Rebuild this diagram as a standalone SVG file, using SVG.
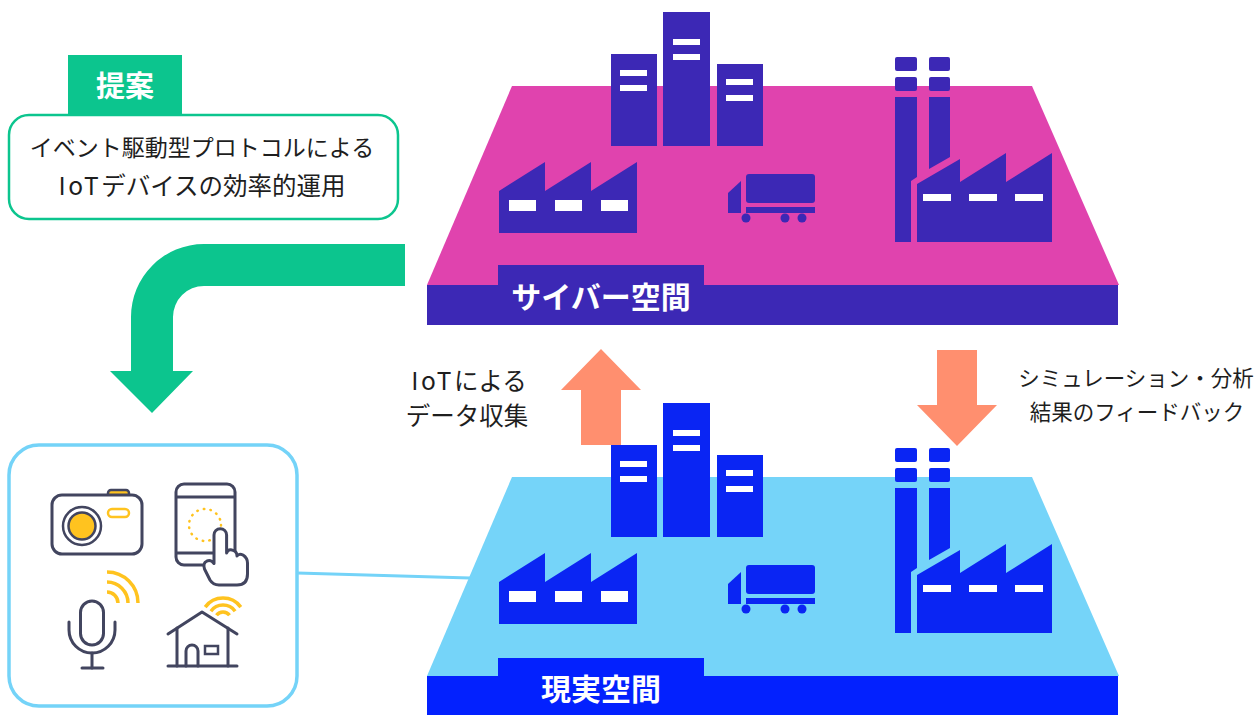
<svg xmlns="http://www.w3.org/2000/svg" width="1260" height="715" viewBox="0 0 1260 715">
  <defs>
    <style>
      .jp { font-family: "Noto Sans CJK JP", "Noto Sans", sans-serif; }
      .caption { font-size: 24.5px; fill: #1e1e1e; text-anchor: middle; }
      .caption-r { font-size: 21.5px; fill: #1e1e1e; text-anchor: middle; }
      .plate-label { font-size: 30px; font-weight: 700; fill: #ffffff; text-anchor: middle; }
      .latin { letter-spacing: 2.5px; }
      .win { fill: #ffffff; }
      .icon { fill: none; stroke: #42455f; stroke-width: 3; stroke-linecap: round; stroke-linejoin: round; }
      .icon-w { fill: #ffffff; stroke: #42455f; stroke-width: 3; stroke-linejoin: round; }
      .wave { fill: none; stroke: #ffc31f; stroke-width: 3.5; }
    </style>
    <!-- skyline shared by both plates; colour comes from the <use> -->
    <g id="city">
      <!-- office towers -->
      <rect x="611" y="54" width="46" height="92"/>
      <rect x="663" y="12" width="47" height="134"/>
      <rect x="717" y="64" width="46" height="82"/>
      <rect class="win" x="620" y="70" width="27" height="6"/>
      <rect class="win" x="620" y="85" width="27" height="6"/>
      <rect class="win" x="673" y="39" width="27" height="6"/>
      <rect class="win" x="673" y="54" width="27" height="6"/>
      <rect class="win" x="726" y="79" width="27" height="6"/>
      <rect class="win" x="726" y="95" width="27" height="6"/>
      <!-- saw-tooth factory -->
      <path d="M499,191 L545,162 L545,191 L591,162 L591,191 L637,162 L637,233 L499,233 Z"/>
      <rect class="win" x="509" y="200" width="27" height="11"/>
      <rect class="win" x="555" y="200" width="27" height="11"/>
      <rect class="win" x="601" y="200" width="27" height="11"/>
      <!-- truck -->
      <path d="M728,193 L741,181 L741,213 L728,213 Z"/>
      <rect x="746" y="174" width="69" height="29" rx="3"/>
      <rect x="746" y="207" width="69" height="6"/>
      <circle cx="746" cy="218" r="4.5"/>
      <circle cx="785" cy="218" r="4.5"/>
      <circle cx="802" cy="218" r="4.5"/>
      <!-- factory with chimneys -->
      <rect x="895" y="57" width="22" height="14" rx="2"/>
      <rect x="895" y="77" width="22" height="14" rx="2"/>
      <rect x="929" y="57" width="21" height="14" rx="2"/>
      <rect x="929" y="77" width="21" height="14" rx="2"/>
      <path d="M895,97 L917,97 L917,177 L911,181 L911,242 L895,242 Z"/>
      <path d="M929,97 L950,97 L950,157 L929,169 Z"/>
      <path d="M917,184 L960,159 L960,182 L1006,153 L1006,182 L1052,153 L1052,242 L917,242 Z"/>
      <rect class="win" x="923" y="194" width="28" height="7"/>
      <rect class="win" x="969" y="194" width="28" height="7"/>
      <rect class="win" x="1015" y="194" width="28" height="7"/>
    </g>
  </defs>

  <rect width="1260" height="715" fill="#ffffff"/>

  <!-- connectors -->
  <g id="connectors">
    <line x1="297" y1="573" x2="470" y2="578" stroke="#74d3f8" stroke-width="3"/>
    <!-- proposal arrow bending down to the devices -->
    <path d="M405,244 L204,244 A73,73 0 0 0 131,317 L131,371 L110,371 L152,413 L193,371 L173,371 L173,317 A31,31 0 0 1 204,286 L405,286 Z" fill="#0cc58e"/>
    <!-- data collection (up) -->
    <path d="M581,445 L581,390 L561,390 L601,349 L641,390 L621,390 L621,445 Z" fill="#ff8f6f"/>
    <!-- feedback (down) -->
    <path d="M937,350 L977,350 L977,405 L997,405 L957,446 L917,405 L937,405 Z" fill="#ff8f6f"/>
  </g>

  <!-- cyber space plate -->
  <g id="cyber-space">
    <path d="M512,86 L1032,86 L1119,285 L427,285 Z" fill="#e043ae"/>
    <rect x="427" y="285" width="691" height="40" fill="#3c28b5"/>
    <rect x="498" y="265" width="206" height="21" fill="#3c28b5"/>
    <use href="#city" fill="#3c28b5"/>
    <text class="jp plate-label" x="601" y="308">サイバー空間</text>
  </g>

  <!-- physical space plate -->
  <g id="real-space">
    <path d="M512,477 L1032,477 L1119,676 L427,676 Z" fill="#75d4f9"/>
    <rect x="427" y="676" width="691" height="39" fill="#0321fe"/>
    <rect x="498" y="658" width="206" height="19" fill="#0321fe"/>
    <use href="#city" fill="#0a25f3" transform="translate(0,391)"/>
    <text class="jp plate-label" x="601" y="700">現実空間</text>
  </g>

  <!-- proposal -->
  <g id="proposal">
    <rect x="68" y="55" width="114" height="61" fill="#0cc58e"/>
    <text class="jp" x="125" y="97" font-size="29" font-weight="700" fill="#ffffff" text-anchor="middle">提案</text>
    <rect x="9" y="115" width="389" height="104" rx="20" fill="#ffffff" stroke="#0cc58e" stroke-width="2.5"/>
    <text class="jp" x="202" y="156" font-size="23" fill="#1e1e1e" text-anchor="middle">イベント駆動型プロトコルによる</text>
    <text class="jp" x="202" y="195" font-size="24.5" fill="#1e1e1e" text-anchor="middle"><tspan class="latin">IoT</tspan>デバイスの効率的運用</text>
  </g>

  <!-- arrow captions -->
  <g id="collect-label">
    <text class="jp caption" x="469" y="390"><tspan class="latin">IoT</tspan>による</text>
    <text class="jp caption" x="467" y="425">データ収集</text>
  </g>
  <g id="feedback-label">
    <text class="jp caption-r" x="1136" y="386">シミュレーション・分析</text>
    <text class="jp caption-r" x="1137" y="420">結果のフィードバック</text>
  </g>

  <!-- IoT devices -->
  <g id="devices">
    <rect x="9" y="445" width="288" height="261" rx="30" fill="#ffffff" stroke="#74d3f8" stroke-width="3.5"/>
    <!-- camera -->
    <rect x="108" y="490" width="21" height="9" rx="3" fill="#ffc31f" stroke="#42455f" stroke-width="2.5"/>
    <rect class="icon-w" x="52" y="495" width="90" height="59" rx="10"/>
    <circle cx="82" cy="526" r="19" fill="none" stroke="#42455f" stroke-width="2.5"/>
    <circle cx="82" cy="526" r="13.5" fill="#ffc31f" stroke="#42455f" stroke-width="2.5"/>
    <rect x="108" y="509" width="21" height="8" rx="4" fill="none" stroke="#ffc31f" stroke-width="2.5"/>
    <!-- tablet with pointing hand -->
    <rect class="icon-w" x="176" y="484" width="59" height="81" rx="8"/>
    <line class="icon" x1="177" y1="497" x2="234" y2="497"/>
    <line class="icon" x1="177" y1="553" x2="234" y2="553"/>
    <circle cx="205" cy="525" r="16" fill="none" stroke="#ffc31f" stroke-width="2.5" stroke-linecap="round" stroke-dasharray="0.5 6.2"/>
    <path class="icon-w" d="M214,561 L214,535 A6.3,6.3 0 0 1 226.6,535 L226.6,553 Q228,549 232,550 Q237,551 237,556 Q239,553 243,555 Q247.5,558 247.5,563 L247.5,574 Q247.5,585 237,585 L219,585 Q213,585 210,580 L204.5,569 Q202.5,563 207,561 Q211,559.5 214,563.5 Z"/>
    <!-- microphone -->
    <rect class="icon" x="80.5" y="601" width="23" height="44" rx="11.5"/>
    <path class="icon" d="M69,622 L69,630 A23,23 0 0 0 115,630 L115,622"/>
    <line class="icon" x1="92" y1="653" x2="92" y2="668"/>
    <line class="icon" x1="82" y1="668" x2="103" y2="668"/>
    <path class="wave" d="M107,592 A11,11 0 0 1 118,603 M107,582 A21,21 0 0 1 128,603 M107,572 A31,31 0 0 1 138,603"/>
    <!-- house -->
    <polyline class="icon" points="168,634 202,612 237,634"/>
    <polyline class="icon" points="177,628 177,666"/>
    <polyline class="icon" points="228,628 228,666"/>
    <line class="icon" x1="168" y1="666" x2="237" y2="666"/>
    <path class="icon" d="M186,666 L186,651 A6,6 0 0 1 198,651 L198,666"/>
    <rect x="205" y="646" width="13" height="8" fill="none" stroke="#42455f" stroke-width="2.5"/>
    <path class="wave" d="M216.5,615.3 A8,8 0 0 1 229.5,615.3 M210.9,611.2 A15,15 0 0 1 235.1,611.2 M205.2,607.1 A22,22 0 0 1 240.8,607.1"/>
  </g>
</svg>
